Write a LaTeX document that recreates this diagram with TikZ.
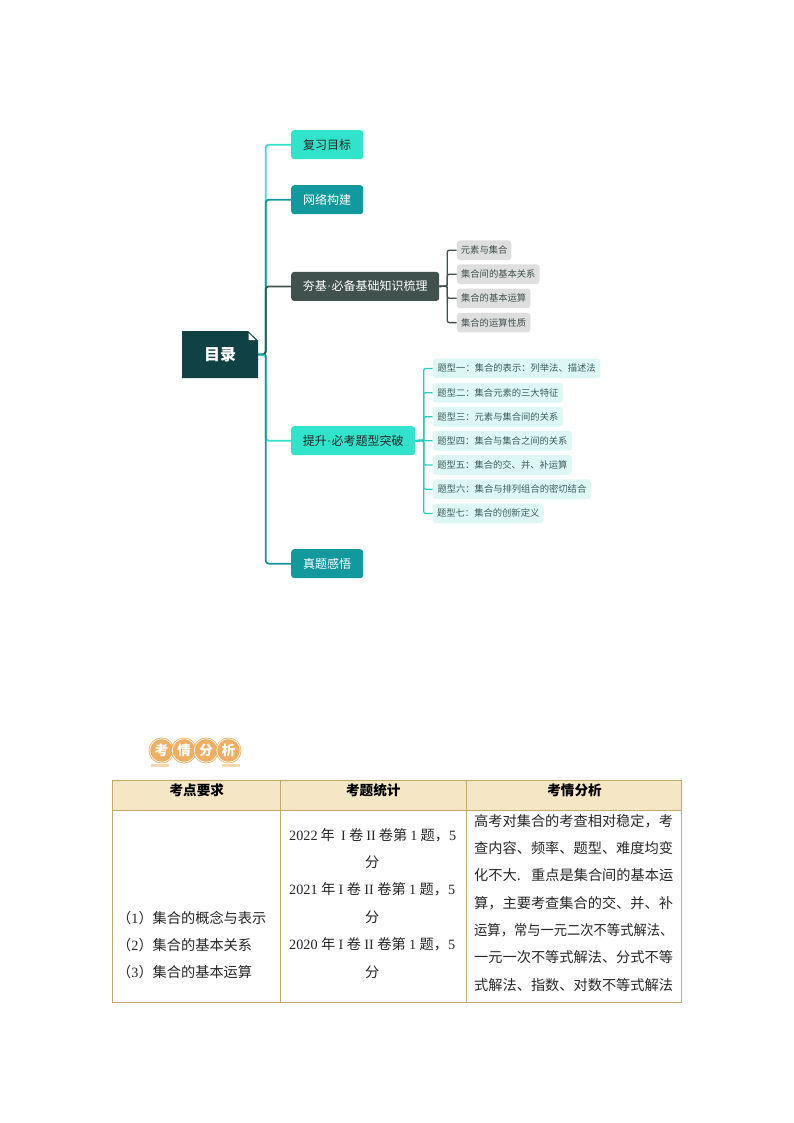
\documentclass[tikz,border=0pt]{standalone}
\usepackage{fontspec}
\usepackage{graphicx}
\setmainfont{Noto Sans CJK SC}
\newfontfamily\numfont{Liberation Serif}
\definecolor{cA}{HTML}{30E3CA}
\definecolor{cB}{HTML}{11999E}
\definecolor{cC}{HTML}{40514E}
\definecolor{cR}{HTML}{0F4145}
\definecolor{cL}{HTML}{DDF8F4}
\definecolor{cG}{HTML}{DEDEDE}
\definecolor{cT}{HTML}{C4A96A}
\definecolor{cH}{HTML}{F5E6C6}
\definecolor{cO}{HTML}{F0AE62}
\tikzset{x=1pt,y=-1pt,
 mainbox/.style={rounded corners=3pt,inner sep=0,anchor=north west,font=\fontsize{12}{12}\selectfont},
 subbox/.style={rounded corners=3pt,inner sep=0,anchor=north west,font=\fontsize{9.3}{10}\selectfont},
 branch/.style={line width=1.8pt,rounded corners=3pt},
 twig/.style={line width=1.3pt,rounded corners=2pt},
 cell/.style={inner sep=0,anchor=base west,font=\fontsize{14.2}{14.2}\selectfont,text=black!85},
 head/.style={inner sep=0,anchor=base,font=\fontsize{13.6}{14}\selectfont\bfseries,text=black},
 tline/.style={cT,line width=0.9pt},
 bcirc/.style={circle,fill=cO,draw=cO,double=white,double distance=0.7pt,line width=0.8pt,minimum size=23.5pt,inner sep=0,text=white,font=\fontsize{13.5}{13.5}\selectfont\bfseries},
 bbar/.style={fill=cO!50,inner sep=0,minimum width=18pt,minimum height=2.8pt}
}
\newcommand{\middot}{\hspace{0.4pt}{\numfont ·}\hspace{0.4pt}}
\begin{document}
\begin{tikzpicture}
\useasboundingbox (0,0) rectangle (794,1123);
\fill[white] (0,0) rectangle (794,1123);
% root
\fill[cR] (182,331) -- (248,331) -- (258,340.5) -- (258,378) -- (182,378) -- cycle;
\fill[white] (248.5,333) -- (255.5,340) -- (248.5,340) -- cycle;
\node[inner sep=0,text=white,font=\fontsize{16}{16}\selectfont\bfseries] (root) at (220,354.5) {目录};
\coordinate (rootE) at (258,354.5);
\coordinate (sp) at (265.7,354.5);
% main nodes
\node[mainbox,fill=cA,text=black!85,minimum width=72pt,minimum height=29pt] (n1) at (291,130) {复习目标};
\node[mainbox,fill=cB,text=white,minimum width=72pt,minimum height=29pt] (n2) at (291,185) {网络构建};
\node[mainbox,fill=cC,text=white,minimum width=148pt,minimum height=29pt] (n3) at (291,271.7) {夯基\middot 必备基础知识梳理};
\node[mainbox,fill=cA,text=black!85,minimum width=124pt,minimum height=29pt] (n4) at (291,426) {提升\middot 必考题型突破};
\node[mainbox,fill=cB,text=white,minimum width=72pt,minimum height=29pt] (n5) at (291,549) {真题感悟};
% branches
\draw[branch,cA] (rootE) -- (sp) |- (n1.west);
\draw[branch,cB] (rootE) -- (sp) |- (n2.west);
\draw[branch,cC] (rootE) -- (sp) |- (n3.west);
\draw[branch,cA] (rootE) -- (sp) |- (n4.west);
\draw[branch,cB] (sp) |- (n5.west);
\draw[branch,cB,rounded corners=0pt] (rootE) -- (sp);
% gray sub nodes
\node[subbox,fill=cG,text=cC,minimum width=54.5pt,minimum height=19.6pt] (g1) at (456.7,240.2) {元素与集合};
\node[subbox,fill=cG,text=cC,minimum width=82.8pt,minimum height=19.6pt] (g2) at (456.7,264.2) {集合间的基本关系};
\node[subbox,fill=cG,text=cC,minimum width=73.5pt,minimum height=19.6pt] (g3) at (456.7,288.3) {集合的基本运算};
\node[subbox,fill=cG,text=cC,minimum width=73.5pt,minimum height=19.6pt] (g4) at (456.7,312.6) {集合的运算性质};
\coordinate (gs) at (447.3,286.2);
\foreach \k in {1,...,4}{\draw[twig,cC] (n3.east) -- (gs) |- (g\k.west);}
% teal sub nodes
\tikzset{tealtxt/.style={text=cC!80!cB}}
\node[subbox,tealtxt,fill=cL,minimum width=167.5pt,minimum height=19.6pt] (t1) at (432.7,358.4) {题型一：集合的表示：列举法、描述法};
\node[subbox,tealtxt,fill=cL,minimum width=130pt,minimum height=19.6pt] (t2) at (432.7,382.7) {题型二：集合元素的三大特征};
\node[subbox,tealtxt,fill=cL,minimum width=130pt,minimum height=19.6pt] (t3) at (432.7,406.7) {题型三：元素与集合间的关系};
\node[subbox,tealtxt,fill=cL,minimum width=139pt,minimum height=19.6pt] (t4) at (432.7,430.8) {题型四：集合与集合之间的关系};
\node[subbox,tealtxt,fill=cL,minimum width=139pt,minimum height=19.6pt] (t5) at (432.7,455) {题型五：集合的交、并、补运算};
\node[subbox,tealtxt,fill=cL,minimum width=158pt,minimum height=19.6pt] (t6) at (432.7,479.2) {题型六：集合与排列组合的密切结合};
\node[subbox,tealtxt,fill=cL,minimum width=110.6pt,minimum height=19.6pt] (t7) at (432.7,503.4) {题型七：集合的创新定义};
\coordinate (ts) at (423.7,440.5);
\foreach \k in {1,...,7}{\draw[twig,cA!70!cB] (n4.east) -- (ts) |- (t\k.west);}
% badge
\node[bbar] (b1) at (159.5,765.3) {};
\node[bbar] (b2) at (230.5,765.3) {};
\node[bcirc] (c1) at (161.5,750.5) {考};
\node[bcirc] (c2) at (184,750.5) {情};
\node[bcirc] (c3) at (206,750.5) {分};
\node[bcirc] (c4) at (228.5,750.5) {析};
% table
\fill[cH] (112.5,780.7) rectangle (681,810);
\coordinate (tl) at (112.5,780.7);
\coordinate (tr) at (681,780.7);
\coordinate (ml) at (112.5,810);
\coordinate (mr) at (681,810);
\coordinate (bl) at (112.5,1002.3);
\coordinate (br) at (681,1002.3);
\coordinate (c1t) at (280.3,780.7);
\coordinate (c1b) at (280.3,1002.3);
\coordinate (c2t) at (466.3,780.7);
\coordinate (c2b) at (466.3,1002.3);
\draw[tline] (tl) -- (tr) -- (br) -- (bl) -- cycle;
\draw[tline] (ml) -- (mr);
\draw[tline] (c1t) -- (c1b);
\draw[tline] (c2t) -- (c2b);
\node[head] (h1) at (196.8,795) {考点要求};
\node[head] (h2) at (373.3,795) {考题统计};
\node[head] (h3) at (574.5,795) {考情分析};
% col1
\node[cell] (a1) at (117,923) {（\numfont 1\normalfont）集合的概念与表示};
\node[cell] (a2) at (117,950) {（\numfont 2\normalfont）集合的基本关系};
\node[cell] (a3) at (117,977.5) {（\numfont 3\normalfont）集合的基本运算};
% col2
\newcommand{\num}[1]{{\numfont #1}}
\node[cell] (s1) at (289,840.5) {\makebox[167pt][s]{\num{2022} 年\ \ \num{I} 卷 \num{II} 卷第 \num{1} 题，\num{5}}};
\node[cell,anchor=base] (f1) at (372.3,867) {分};
\node[cell] (s2) at (289,894.5) {\makebox[166pt][s]{\num{2021} 年 \num{I} 卷 \num{II} 卷第 \num{1} 题，\num{5}}};
\node[cell,anchor=base] (f2) at (372.3,922) {分};
\node[cell] (s3) at (289,949.5) {\makebox[166pt][s]{\num{2020} 年 \num{I} 卷 \num{II} 卷第 \num{1} 题，\num{5}}};
\node[cell,anchor=base] (f3) at (372.3,977.5) {分};
% col3
\node[cell] (r1) at (474,826) {高考对集合的考查相对稳定，考};
\node[cell] (r2) at (474,853.3) {查内容、频率、题型、难度均变};
\node[cell] (r3) at (474,880.7) {\makebox[199pt][s]{化不大. 重点是集合间的基本运}};
\node[cell] (r4) at (474,908) {算，主要考查集合的交、并、补};
\node[cell] (r5) at (474,935.4) {\scalebox{0.935}[1]{运算，常与一元二次不等式解法、}};
\node[cell] (r6) at (474,962.8) {一元一次不等式解法、分式不等};
\node[cell] (r7) at (474,990.2) {式解法、指数、对数不等式解法};
\end{tikzpicture}
\end{document}
